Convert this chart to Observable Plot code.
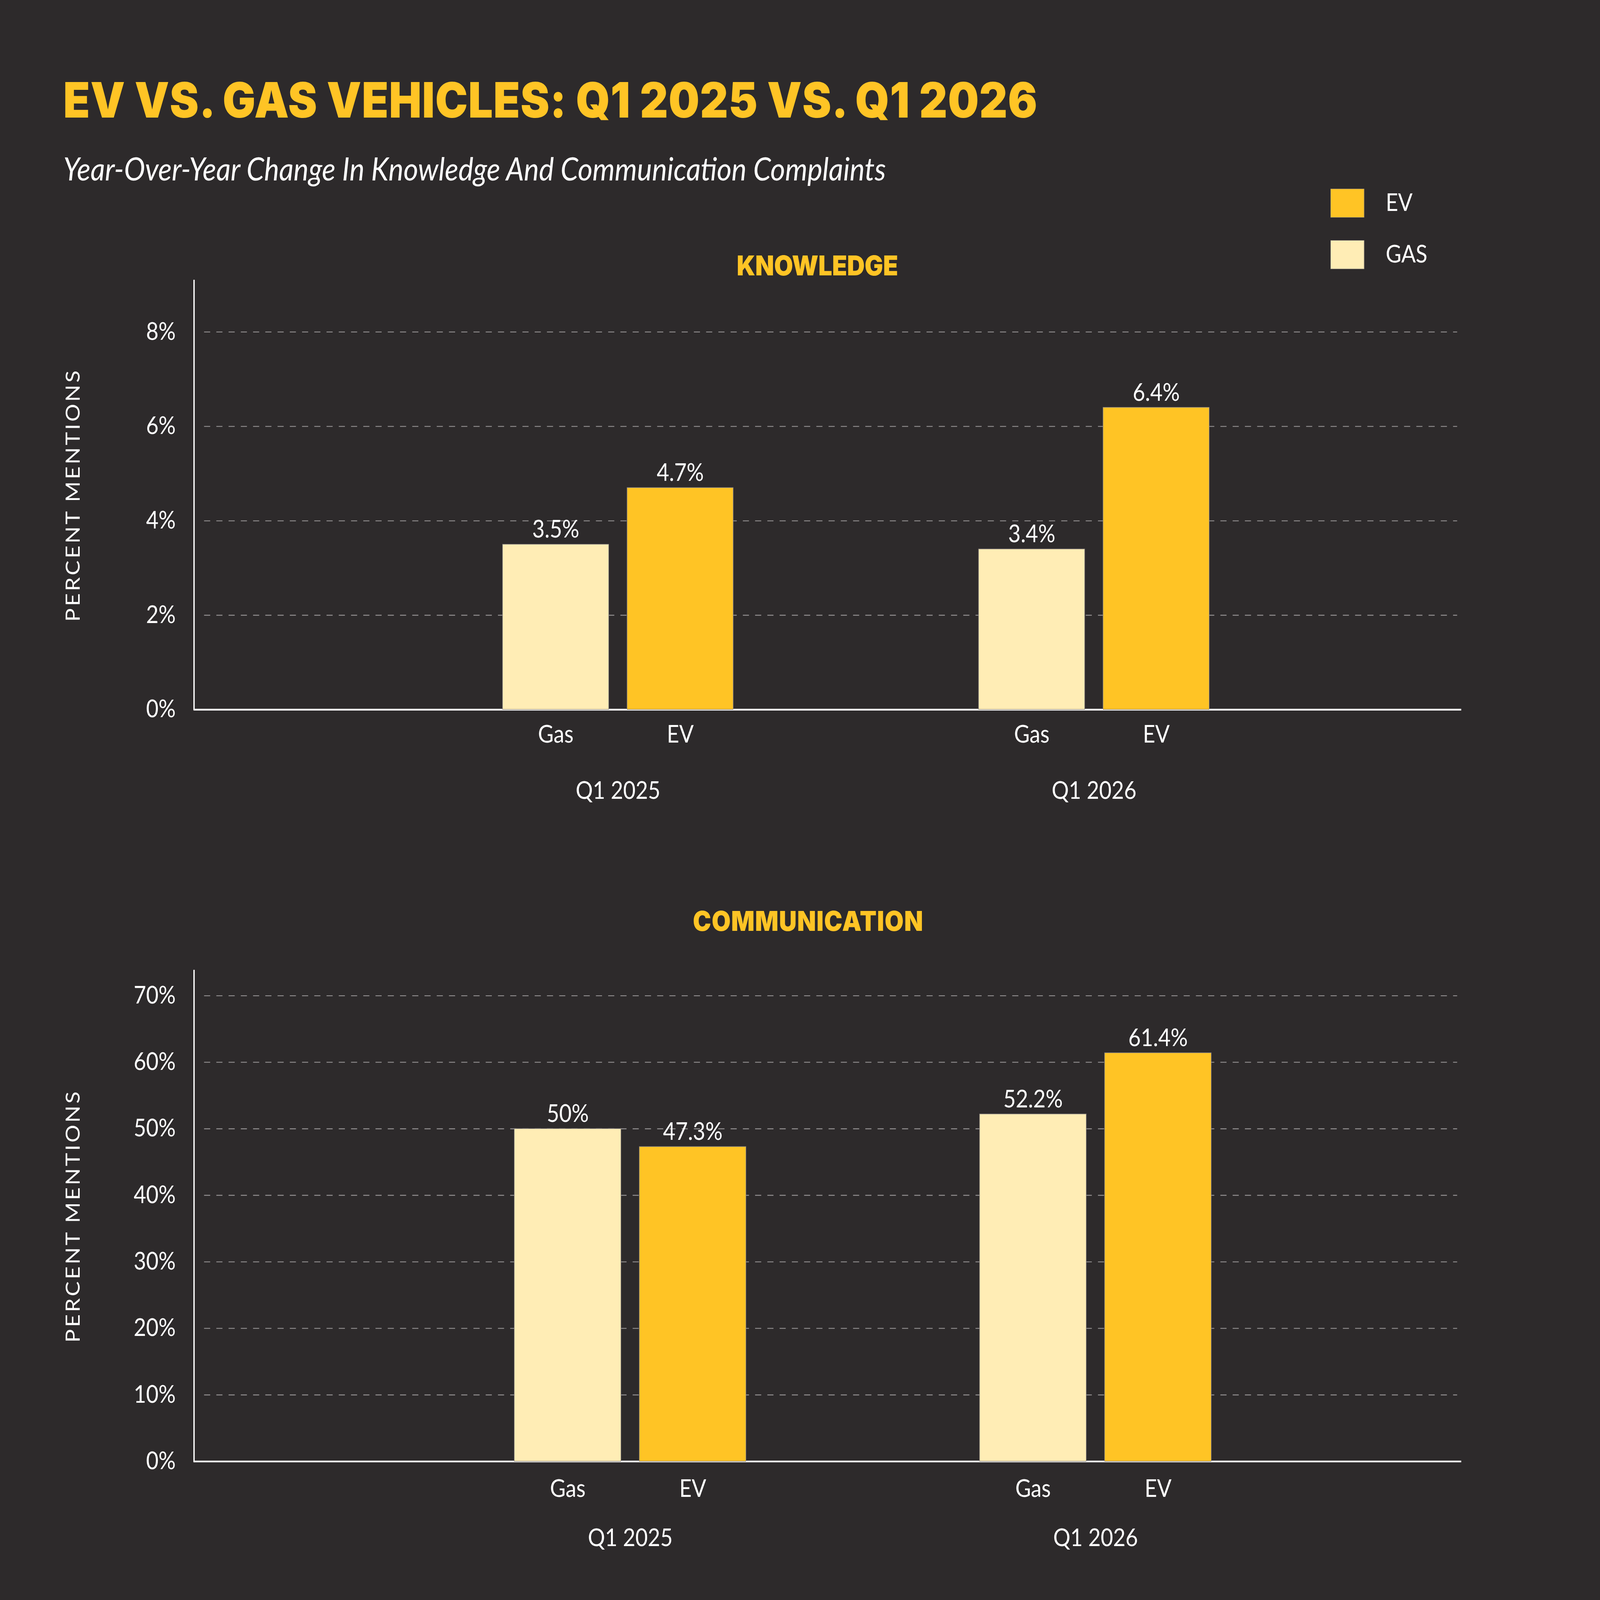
<!DOCTYPE html>
<html>
<head>
<meta charset="utf-8">
<script src="https://cdn.jsdelivr.net/npm/d3@7"></script>
<script src="https://cdn.jsdelivr.net/npm/@observablehq/plot@0.6"></script>
<style>
html, body { margin: 0; padding: 0; background: #2d2a2b; overflow: hidden; }
#root { position: absolute; left: 0; top: 0; width: 5123px; height: 4568px; background: #2d2a2b; overflow: hidden; font-family: Lato, "Noto Sans", sans-serif; transform-origin: 0 0; }
.abs { position: absolute; white-space: nowrap; line-height: 1; }
</style>
</head>
<body>
<div id="root"></div>
<script>
// ---------- data ----------
const quarters = ["Q1 2025", "Q1 2026"];
const types = ["Gas", "EV"];
const knowledgeGas = [3.5, 3.4];
const knowledgeEV = [4.7, 6.4];
const communicationGas = [50, 52.2];
const communicationEV = [47.3, 61.4];
const knowledgeTicks = [0, 2, 4, 6, 8];
const communicationTicks = [0, 10, 20, 30, 40, 50, 60, 70];
const legendKeys = ["EV", "Gas"];
const legendLabels = ["EV", "GAS"];
const titleText = "EV VS. GAS VEHICLES: Q1 2025 VS. Q1 2026";
const subtitleText = "Year-Over-Year Change In Knowledge And Communication Complaints";
const panelTitles = ["KNOWLEDGE", "COMMUNICATION"];
const yLabel = "PERCENT MENTIONS";

// ---------- styling / layout ----------
const PAGE_W = 5123, PAGE_H = 4568;
const S = PAGE_W / 1568;
const u = v => v * S;
const EV_COLOR = "#ffc425";
const GAS_COLOR = "#ffedb5";

const root = document.getElementById("root");

const st = document.createElement("style");
st.textContent = `svg g[aria-label="y-axis label"] text { letter-spacing: ${u(1.8)}px; font-size: ${u(19.5)}px; }`;
document.head.appendChild(st);

function addText(txt, {left, top, size, weight = 400, family = "Lato", style = "normal", color = "white", fit, fitSize, center}) {
  const d = document.createElement("div");
  d.className = "abs";
  d.textContent = txt;
  Object.assign(d.style, {
    top: u(top) + "px", fontSize: u(size) + "px", fontWeight: weight,
    fontFamily: family, fontStyle: style, color
  });
  root.appendChild(d);
  if (fit) {
    const w = d.offsetWidth;
    d.style.letterSpacing = ((u(fit) - w) / txt.length) + "px";
  }
  if (fitSize) {
    const w = d.offsetWidth;
    d.style.fontSize = (u(size) * u(fitSize) / w) + "px";
  }
  const w2 = d.offsetWidth;
  d.style.left = (center != null ? u(center) - w2 / 2 : u(left)) + "px";
  return d;
}

// title & subtitle
addText(titleText, {left: 62, top: 66, size: 42.6, weight: 900, family: "Inter", color: EV_COLOR, fit: 955});
addText(subtitleText, {left: 62, top: 133, size: 22, style: "italic", fitSize: 806});

// legend
legendKeys.forEach((k, i) => {
  const sq = document.createElement("div");
  Object.assign(sq.style, {
    position: "absolute", left: u(1304) + "px", top: u(165 + i * 45) + "px",
    width: u(33) + "px", height: u(25) + "px", boxSizing: "border-box",
    background: k === "EV" ? EV_COLOR : GAS_COLOR, border: u(0.5) + "px solid #8a8582"
  });
  root.appendChild(sq);
  addText(legendLabels[i], {left: 1358, top: 166 + i * 45, size: 21});
});

// panel titles
addText(panelTitles[0], {center: 801, top: 220, size: 24, weight: 900, family: "Inter", color: EV_COLOR, fit: 158});
addText(panelTitles[1], {center: 792, top: 793, size: 24, weight: 900, family: "Inter", color: EV_COLOR, fit: 226});

function rowsOf(gas, ev) {
  return quarters.flatMap((q, i) => [
    {quarter: q, type: "Gas", value: gas[i]},
    {quarter: q, type: "EV", value: ev[i]}
  ]);
}

const common = frameH => ({
  width: PAGE_W,
  height: u(20 + frameH + 90),
  marginLeft: u(190), marginRight: u(136), marginTop: u(20), marginBottom: u(90),
  style: {background: "transparent", color: "white", fontFamily: "Lato, sans-serif", fontSize: u(21) + "px", overflow: "visible"}
});

// axis / grid layer (unfaceted)
function axisLayer({ticks, ymax, frameH}) {
  return Plot.plot({
    ...common(frameH),
    y: {domain: [0, ymax]},
    marks: [
      Plot.ruleY(ticks.filter(t => t > 0), {stroke: "#d6d3d3", strokeOpacity: 0.6, strokeWidth: u(0.8), strokeDasharray: `${u(6)},${u(6)}`, insetLeft: u(10), insetRight: u(4)}),
      Plot.axisY({ticks, tickSize: 0, tickPadding: u(18), tickFormat: d => d + "%", label: yLabel, labelArrow: "none", labelAnchor: "center", labelOffset: u(126), fontSize: u(21)}),
      Plot.frame({anchor: "left", stroke: "white", strokeWidth: u(1.3)}),
      Plot.ruleY([0], {stroke: "white", strokeWidth: u(1.5)})
    ]
  });
}

// bars layer (faceted by quarter)
function barLayer({rows, ymax, frameH, fxRange, fxPad, xPad, xTP, fxTP}) {
  return Plot.plot({
    ...common(frameH),
    fx: {domain: quarters, range: fxRange.map(u), paddingInner: fxPad, paddingOuter: 0, round: false, label: null},
    x: {domain: types, paddingInner: xPad, paddingOuter: 0, round: false, label: null},
    y: {domain: [0, ymax], axis: null},
    color: {domain: ["EV", "Gas"], range: [EV_COLOR, GAS_COLOR]},
    marks: [
      Plot.barY(rows, {fx: "quarter", x: "type", y: "value", fill: "type", stroke: "#8a8582", strokeWidth: u(0.5)}),
      Plot.text(rows, {fx: "quarter", x: "type", y: "value", text: d => `${d.value}%`, lineAnchor: "bottom", dy: -u(6), fill: "white", fontSize: u(21)}),
      Plot.axisX({tickSize: 0, tickPadding: u(xTP), label: null, fontSize: u(21)}),
      Plot.axisFx({anchor: "bottom", tickSize: 0, tickPadding: u(fxTP), label: null, fontSize: u(21)})
    ]
  });
}

function place(svg, top) {
  svg.style.position = "absolute";
  svg.style.left = "0px";
  svg.style.top = u(top) + "px";
  root.appendChild(svg);
}

const kCfg = {
  rows: rowsOf(knowledgeGas, knowledgeEV), ticks: knowledgeTicks,
  ymax: 375 / 41.25, frameH: 375,
  fxRange: [492.5, 1185], fxPad: 0.5155, xPad: 0.1475, xTP: 14, fxTP: 63
};
const cCfg = {
  rows: rowsOf(communicationGas, communicationEV), ticks: communicationTicks,
  ymax: 429 / 5.814, frameH: 429,
  fxRange: [504, 1187], fxPad: 0.5022, xPad: 0.147, xTP: 16, fxTP: 59
};
place(axisLayer(kCfg), 225);
place(barLayer(kCfg), 225);
place(axisLayer(cCfg), 828);
place(barLayer(cCfg), 828);

// fit the whole page into the actual browser viewport
const vw = window.innerWidth || document.documentElement.clientWidth || PAGE_W;
const vh = window.innerHeight || document.documentElement.clientHeight || PAGE_H;
root.style.transform = `scale(${vw / PAGE_W}, ${vh / PAGE_H})`;
</script>
</body>
</html>
